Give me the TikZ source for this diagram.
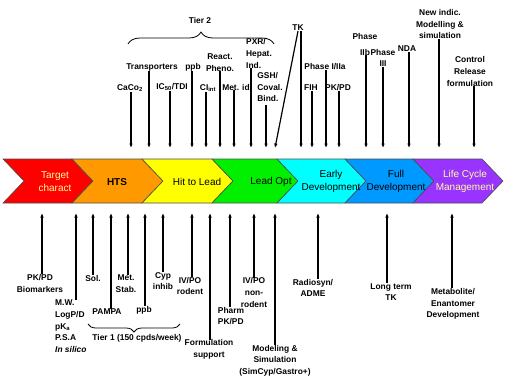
\documentclass[tikz,border=0pt]{standalone}
\usepackage{fontspec}
\setmainfont{Liberation Sans}
\usetikzlibrary{arrows.meta, decorations.pathreplacing}

\definecolor{stRed}{RGB}{255,0,0}
\definecolor{stOrange}{RGB}{255,153,0}
\definecolor{stYellow}{RGB}{255,255,0}
\definecolor{stGreen}{RGB}{0,240,0}
\definecolor{stCyan}{RGB}{0,255,255}
\definecolor{stBlue}{RGB}{0,153,255}
\definecolor{stPurple}{RGB}{153,51,255}
\definecolor{paleText}{RGB}{255,255,153}

\begin{document}
\begin{tikzpicture}[x=1pt, y=-1pt,
    stage/.style={draw=black!70, line width=0.6pt},
    sname/.style={font=\fontsize{10}{13}\selectfont, align=center, inner sep=0pt},
    lbl/.style={font=\bfseries\fontsize{8.4}{11.6}\selectfont, align=center, inner sep=0pt},
    down/.style={-{Latex[length=4.5pt,width=3.6pt]}, line width=1.2pt},
    tier/.style={decorate, decoration={brace, amplitude=#1}, line width=0.8pt}]
		\useasboundingbox (0,0) rectangle (508,384);

		% stages
		\filldraw[stage, fill=stRed] (3,159) -- (72,159) -- (93,181) -- (72,203) -- (3,203) -- (24,181) -- cycle;
		\filldraw[stage, fill=stOrange] (72,159) -- (142,159) -- (163,181) -- (142,203) -- (72,203) -- (93,181) -- cycle;
		\filldraw[stage, fill=stYellow] (142,159) -- (212,159) -- (233,181) -- (212,203) -- (142,203) -- (163,181) -- cycle;
		\filldraw[stage, fill=stGreen] (212,159) -- (277,159) -- (298,181) -- (277,203) -- (212,203) -- (233,181) -- cycle;
		\filldraw[stage, fill=stCyan] (277,159) -- (345,159) -- (366,181) -- (345,203) -- (277,203) -- (298,181) -- cycle;
		\filldraw[stage, fill=stBlue] (345,159) -- (413,159) -- (434,181) -- (413,203) -- (345,203) -- (366,181) -- cycle;
		\filldraw[stage, fill=stPurple] (413,159) -- (482,159) -- (503,181) -- (482,203) -- (413,203) -- (434,181) -- cycle;

		\node[sname, text=paleText] (s1) at (55,181.5) {Target\\charact};
		\node[sname, font=\bfseries\fontsize{10}{13}\selectfont] (s2) at (117,182) {HTS};
		\node[sname] (s3) at (197,182) {Hit to Lead};
		\node[sname] (s4) at (271,182) {Lead Opt};
		\node[sname] (s5) at (331,181.5) {Early\\Development};
		\node[sname] (s6) at (396,181.5) {Full\\Development};
		\node[sname, text=paleText] (s7) at (465,181.5) {Life Cycle\\Management};

		% top labels
		\node[lbl] (tier2) at (200,20) {Tier 2};
		\node[lbl] (caco) at (130,88) {CaCo\textsubscript{2}};
		\node[lbl] (trans) at (152,67) {Transporters};
		\node[lbl] (ic50) at (172,87) {IC\textsubscript{50}/TDI};
		\node[lbl] (ppbT) at (193,67) {ppb};
		\node[lbl] (clint) at (208,88) {CI\textsubscript{int}};
		\node[lbl] (react) at (220,62.5) {React.\\Pheno.};
		\node[lbl] (metid) at (236,87) {Met. id};
		\node[lbl, align=left] (pxr) at (259,53.5) {PXR/\\Hepat.\\Ind.};
		\node[lbl, align=left] (gsh) at (270,87) {GSH/\\Coval.\\Bind.};
		\node[lbl] (tk) at (298,28) {TK};
		\node[lbl] (ph1) at (325,67) {Phase I/IIa};
		\node[lbl] (fih) at (311,88) {FIH};
		\node[lbl] (pkpdT) at (338,88) {PK/PD};
		\node[lbl] (ph2b) at (365,44.5) {Phase\\[3.5pt]IIb};
		\node[lbl] (ph3) at (383,58) {Phase\\III};
		\node[lbl] (nda) at (407,49) {NDA};
		\node[lbl] (newind) at (440,24) {New indic.\\Modelling \&\\simulation};
		\node[lbl] (ctrl) at (470,71.5) {Control\\Release\\formulation};

		\coordinate (cacoF) at (131,148);
		\coordinate (transF) at (149,148);
		\coordinate (ic50F) at (170,148);
		\coordinate (ppbTF) at (192,148);
		\coordinate (clintF) at (206,148);
		\coordinate (reactF) at (220,148);
		\coordinate (metidF) at (234,148);
		\coordinate (pxrF) at (251,148);
		\coordinate (gshF) at (266,148);
		\coordinate (tkD) at (275,148);
		\coordinate (tkF) at (301,148);
		\coordinate (ph1F) at (326,148);
		\coordinate (fihF) at (312,148);
		\coordinate (pkpdTF) at (339,148);
		\coordinate (ph2bF) at (366,148);
		\coordinate (ph3F) at (383,148);
		\coordinate (ndaF) at (409,148);
		\coordinate (newindF) at (439,148);
		\coordinate (ctrlF) at (474,148);

		\path [down] (cacoF |- caco.south) edge (cacoF);
		\path [down] (transF |- trans.south) edge (transF);
		\path [down] (ic50F |- ic50.south) edge (ic50F);
		\path [down] (ppbTF |- ppbT.south) edge (ppbTF);
		\path [down] (clintF |- clint.south) edge (clintF);
		\path [down] (reactF |- react.south) edge (reactF);
		\path [down] (metidF |- metid.south) edge (metidF);
		\path [down] (pxrF |- pxr.south) edge (pxrF);
		\path [down] ([yshift=-3pt]gshF |- gsh.south) edge (gshF);
		\path [down] (tk.south) edge (tkD);
		\path [down] (tkF |- tk.south) edge (tkF);
		\path [down] (ph1F |- ph1.south) edge (ph1F);
		\path [down] (fihF |- fih.south) edge (fihF);
		\path [down] (pkpdTF |- pkpdT.south) edge (pkpdTF);
		\path [down] (ph2bF |- ph2b.south) edge (ph2bF);
		\path [down] (ph3F |- ph3.south) edge (ph3F);
		\path [down] (ndaF |- nda.south) edge (ndaF);
		\path [down] (newindF |- newind.south) edge (newindF);
		\path [down] (ctrlF |- ctrl.south) edge (ctrlF);

		\draw[tier=12pt] (128,44) -- (274,44);

		% bottom labels
		\node[lbl] (pkbio) at (40,283.5) {PK/PD\\Biomarkers};
		\node[lbl, align=left, anchor=north west] (mw) at (55,300) {M.W.\\LogP/D\\pK\textsubscript{a}\\P.S.A\\\textit{In silico}};
		\node[lbl] (sol) at (93,278) {Sol.};
		\node[lbl] (pampa) at (107,312) {PAMPA};
		\node[lbl] (metstab) at (126,283.5) {Met.\\Stab.};
		\node[lbl] (ppbB) at (144,310) {ppb};
		\node[lbl] (cyp) at (163,281) {Cyp\\inhib};
		\node[lbl] (ivpo) at (190,286) {IV/PO\\rodent};
		\node[lbl] (form) at (209,349.5) {Formulation\\support};
		\node[lbl, align=left] (pharm) at (231,316) {Pharm\\PK/PD};
		\node[lbl] (ivnon) at (254,292.5) {IV/PO\\non-\\rodent};
		\node[lbl] (model) at (275,360.5) {Modeling \&\\Simulation\\(SimCyp/Gastro+)};
		\node[lbl] (radio) at (313,288) {Radiosyn/\\ADME};
		\node[lbl] (longtk) at (391,292) {Long term\\TK};
		\node[lbl] (metab) at (453,304) {Metabolite/\\Enantomer\\Development};
		\node[lbl] (tier1) at (137,338) {Tier 1 (150 cpds/week)};

		\coordinate (pkbioF) at (42,213);
		\coordinate (mwF) at (76,213);
		\coordinate (solF) at (93,213);
		\coordinate (pampaF) at (111,213);
		\coordinate (metstabF) at (128,213);
		\coordinate (ppbBF) at (145,213);
		\coordinate (cypF) at (163,213);
		\coordinate (ivpoF) at (192,213);
		\coordinate (formF) at (210,213);
		\coordinate (pharmF) at (230,213);
		\coordinate (ivnonF) at (254,213);
		\coordinate (modelF) at (275,213);
		\coordinate (radioF) at (318,213);
		\coordinate (longtkF) at (387,213);
		\coordinate (metabF) at (452,213);

		\path [down] (pkbioF |- pkbio.north) edge (pkbioF);
		\path [down] (mwF |- mw.north) edge (mwF);
		\path [down] (solF |- sol.north) edge (solF);
		\path [down] (pampaF |- pampa.north) edge (pampaF);
		\path [down] (metstabF |- metstab.north) edge (metstabF);
		\path [down] (ppbBF |- ppbB.north) edge (ppbBF);
		\path [down] (cypF |- cyp.north) edge (cypF);
		\path [down] (ivpoF |- ivpo.north) edge (ivpoF);
		\path [down] (formF |- form.north) edge (formF);
		\path [down] (pharmF |- pharm.north) edge (pharmF);
		\path [down] (ivnonF |- ivnon.north) edge (ivnonF);
		\path [down] (modelF |- model.north) edge (modelF);
		\path [down] (radioF |- radio.north) edge (radioF);
		\path [down] (longtkF |- longtk.north) edge (longtkF);
		\path [down] (metabF |- metab.north) edge (metabF);

		\draw[tier=8pt] (180,324) -- (88,324);
		\end{tikzpicture}
\end{document}
